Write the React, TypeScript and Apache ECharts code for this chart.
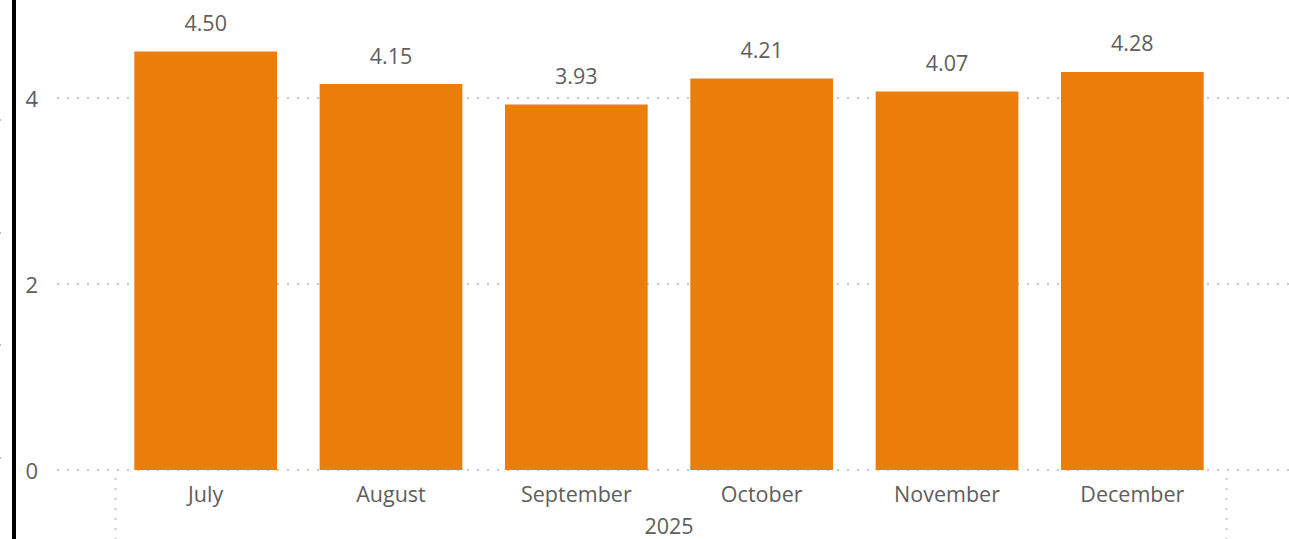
import React, { useEffect, useRef } from "react";
import * as echarts from "echarts";

const months = ["July", "August", "September", "October", "November", "December"];
const values = [4.5, 4.15, 3.93, 4.21, 4.07, 4.28];
const yearLabel = "2025";
const yTicks = [0, 2, 4];

const FONT = "'Open Sans', 'Noto Sans', sans-serif";
const TEXT = "#605E5C";
const GRID = "#C8C8C8";

export default function App() {
  const ref = useRef<HTMLDivElement>(null);
  useEffect(() => {
    if (!ref.current) return;
    const chart = echarts.init(ref.current, null, { renderer: "svg" });
    const top = 98;
    const bottom = 539 - 470;
    chart.setOption({
      animation: false,
      grid: [
        { left: 57, right: 0, top, bottom, outerBoundsMode: "none" },
        { left: 113, right: 64, top, bottom, outerBoundsMode: "none" },
      ],
      xAxis: [
        { gridIndex: 0, type: "category", data: months, show: false },
        {
          gridIndex: 1,
          type: "category",
          data: months,
          axisLine: { show: false },
          axisTick: { show: false },
          axisLabel: { color: TEXT, fontSize: 21.5, fontFamily: FONT, margin: 12 },
          name: yearLabel,
          nameLocation: "middle",
          nameGap: 44,
          nameTextStyle: { color: TEXT, fontSize: 21.5, fontFamily: FONT },
        },
      ],
      yAxis: [
        {
          gridIndex: 0,
          type: "value",
          min: yTicks[0],
          max: yTicks[yTicks.length - 1],
          interval: 2,
          axisLine: { show: false },
          axisTick: { show: false },
          axisLabel: { color: TEXT, fontSize: 22, fontFamily: FONT, margin: 19 },
          splitLine: { show: true, lineStyle: { color: GRID, width: 2, type: [2, 8] } },
        },
        {
          gridIndex: 1,
          type: "value",
          min: yTicks[0],
          max: yTicks[yTicks.length - 1],
          interval: 2,
          show: false,
          splitLine: { show: false },
        },
      ],
      series: [
        {
          type: "bar",
          xAxisIndex: 1,
          yAxisIndex: 1,
          data: values,
          clip: false,
          barCategoryGap: "23%",
          itemStyle: { color: "#EB7D0B" },
          label: {
            show: true,
            position: "top",
            distance: 18,
            color: TEXT,
            fontSize: 21.5,
            fontFamily: FONT,
            formatter: (p: any) => Number(p.value).toFixed(2),
          },
        },
      ],
      graphic: [
        { type: "rect", shape: { x: 12, y: 0, width: 4, height: 539 }, style: { fill: "#000" } },
        { type: "rect", shape: { x: 0, y: 119, width: 1, height: 2 }, style: { fill: "#bbb" } },
        { type: "rect", shape: { x: 0, y: 232, width: 1, height: 2 }, style: { fill: "#bbb" } },
        { type: "rect", shape: { x: 0, y: 344, width: 1, height: 2 }, style: { fill: "#bbb" } },
        { type: "rect", shape: { x: 0, y: 457, width: 1, height: 2 }, style: { fill: "#bbb" } },
        {
          type: "line",
          shape: { x1: 115.5, y1: 478, x2: 115.5, y2: 539 },
          style: { stroke: GRID, lineWidth: 2, lineDash: [2, 8] },
        },
        {
          type: "line",
          shape: { x1: 1226.5, y1: 478, x2: 1226.5, y2: 539 },
          style: { stroke: GRID, lineWidth: 2, lineDash: [2, 8] },
        },
      ],
    });
    return () => chart.dispose();
  }, []);
  return (
    <div
      ref={ref}
      style={{ position: "fixed", left: 0, top: 0, width: 1289, height: 539, background: "#fff" }}
    />
  );
}
